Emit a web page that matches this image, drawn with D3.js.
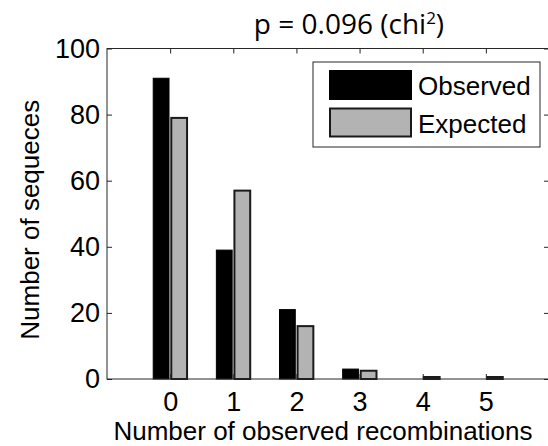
<!DOCTYPE html>
<html>
<head>
<meta charset="utf-8">
<script src="https://cdn.jsdelivr.net/npm/d3@7"></script>
<style>
  body { margin: 0; background: white; }
  svg text { font-family: "Liberation Sans", Arial, sans-serif; fill: black; }
</style>
</head>
<body>
<div id="chart"></div>
<script>
// chart data
const categories = [0, 1, 2, 3, 4, 5];
const observed = [91, 39, 21, 3, 0, 0];
const expected = [79, 57, 16, 2.5, 0.6, 0.6];
const yTicks = [0, 20, 40, 60, 80, 100];
const seriesNames = ["Observed", "Expected"];

width = 548;
height = 446;

svg = d3.select("#chart")
    .append("svg")
    .attr("width", width)
    .attr("height", height);

const plotLeft = 107, plotRight = 549, plotTop = 48.5, plotBottom = 379;

x = d3.scaleLinear().domain([-1, 6]).range([plotLeft, plotRight]);
y = d3.scaleLinear().domain([0, 100]).range([plotBottom, plotTop]);

const axisColor = "#262626";
const barW = 0.25, gap = 0.018;

// bars
const rows = categories.map((c, i) => ({c: c, obs: observed[i], exp: expected[i]}));

svg.append("g").selectAll("rect")
    .data(rows)
    .join("rect")
    .attr("x", d => x(d.c - gap - barW))
    .attr("width", x(barW) - x(0))
    .attr("y", d => y(d.obs))
    .attr("height", d => y(0) - y(d.obs))
    .attr("fill", "black")
    .attr("stroke", "black")
    .attr("stroke-width", 1);

svg.append("g").selectAll("rect")
    .data(rows)
    .join("rect")
    .attr("x", d => x(d.c + gap))
    .attr("width", x(barW) - x(0))
    .attr("y", d => y(d.exp))
    .attr("height", d => y(0) - y(d.exp))
    .attr("fill", "#b3b3b3")
    .attr("stroke", "#1a1a1a")
    .attr("stroke-width", 2);

// axes (ticks pointing inward, box on)
const tick = 5;
function styleAxis(g) {
    g.select(".domain").remove();
    g.selectAll("line").attr("stroke", axisColor);
    g.selectAll("text").style("font-size", "27px").attr("fill", "black");
}

svg.append("g")
    .attr("transform", `translate(0,${plotBottom})`)
    .call(d3.axisBottom(x).tickValues(categories).tickFormat(d3.format("d"))
          .tickSizeInner(-tick).tickSizeOuter(0).tickPadding(13))
    .call(styleAxis);

svg.append("g")
    .attr("transform", `translate(0,${plotTop})`)
    .call(d3.axisTop(x).tickValues(categories).tickFormat("")
          .tickSizeInner(-tick).tickSizeOuter(0))
    .call(styleAxis);

svg.append("g")
    .attr("transform", `translate(${plotLeft},0)`)
    .call(d3.axisLeft(y).tickValues(yTicks)
          .tickSizeInner(-tick).tickSizeOuter(0).tickPadding(7))
    .call(styleAxis);

svg.append("g")
    .attr("transform", `translate(${plotRight},0)`)
    .call(d3.axisRight(y).tickValues(yTicks).tickFormat("")
          .tickSizeInner(-tick).tickSizeOuter(0))
    .call(styleAxis);

svg.append("rect")
    .attr("x", plotLeft).attr("y", plotTop)
    .attr("width", plotRight - plotLeft).attr("height", plotBottom - plotTop)
    .attr("fill", "none")
    .attr("stroke", axisColor)
    .attr("stroke-width", 1);

// axis labels
svg.append("text")
    .attr("x", 323)
    .attr("y", 440)
    .attr("text-anchor", "middle")
    .style("font-size", "26px")
    .text("Number of observed recombinations");

svg.append("text")
    .attr("transform", `translate(39,${(plotTop + plotBottom) / 2 + 6}) rotate(-90)`)
    .attr("text-anchor", "middle")
    .style("font-size", "26px")
    .text("Number of sequeces");

// title
const title = svg.append("text")
    .attr("x", 349)
    .attr("y", 34)
    .attr("text-anchor", "middle")
    .style("font-family", "'Open Sans', sans-serif")
    .style("font-size", "28px")
    .text("p = 0.096 (chi");
title.append("tspan").attr("dy", -10).style("font-size", "17px").text("2");
title.append("tspan").attr("dy", 10).text(")");

// legend
const legend = svg.append("g");
legend.append("rect")
    .attr("x", 313).attr("y", 62)
    .attr("width", 227).attr("height", 85)
    .attr("fill", "white")
    .attr("stroke", axisColor)
    .attr("stroke-width", 1);

const legendFill = ["black", "#b3b3b3"];
const legendStroke = ["black", "#1a1a1a"];
seriesNames.forEach((name, i) => {
    legend.append("rect")
        .attr("x", 330).attr("y", 71 + i * 37.5)
        .attr("width", 81).attr("height", 28)
        .attr("fill", legendFill[i])
        .attr("stroke", legendStroke[i])
        .attr("stroke-width", 2);
    legend.append("text")
        .attr("x", 418).attr("y", 95 + i * 37.5)
        .style("font-size", "26px")
        .text(name);
});
</script>
</body>
</html>
